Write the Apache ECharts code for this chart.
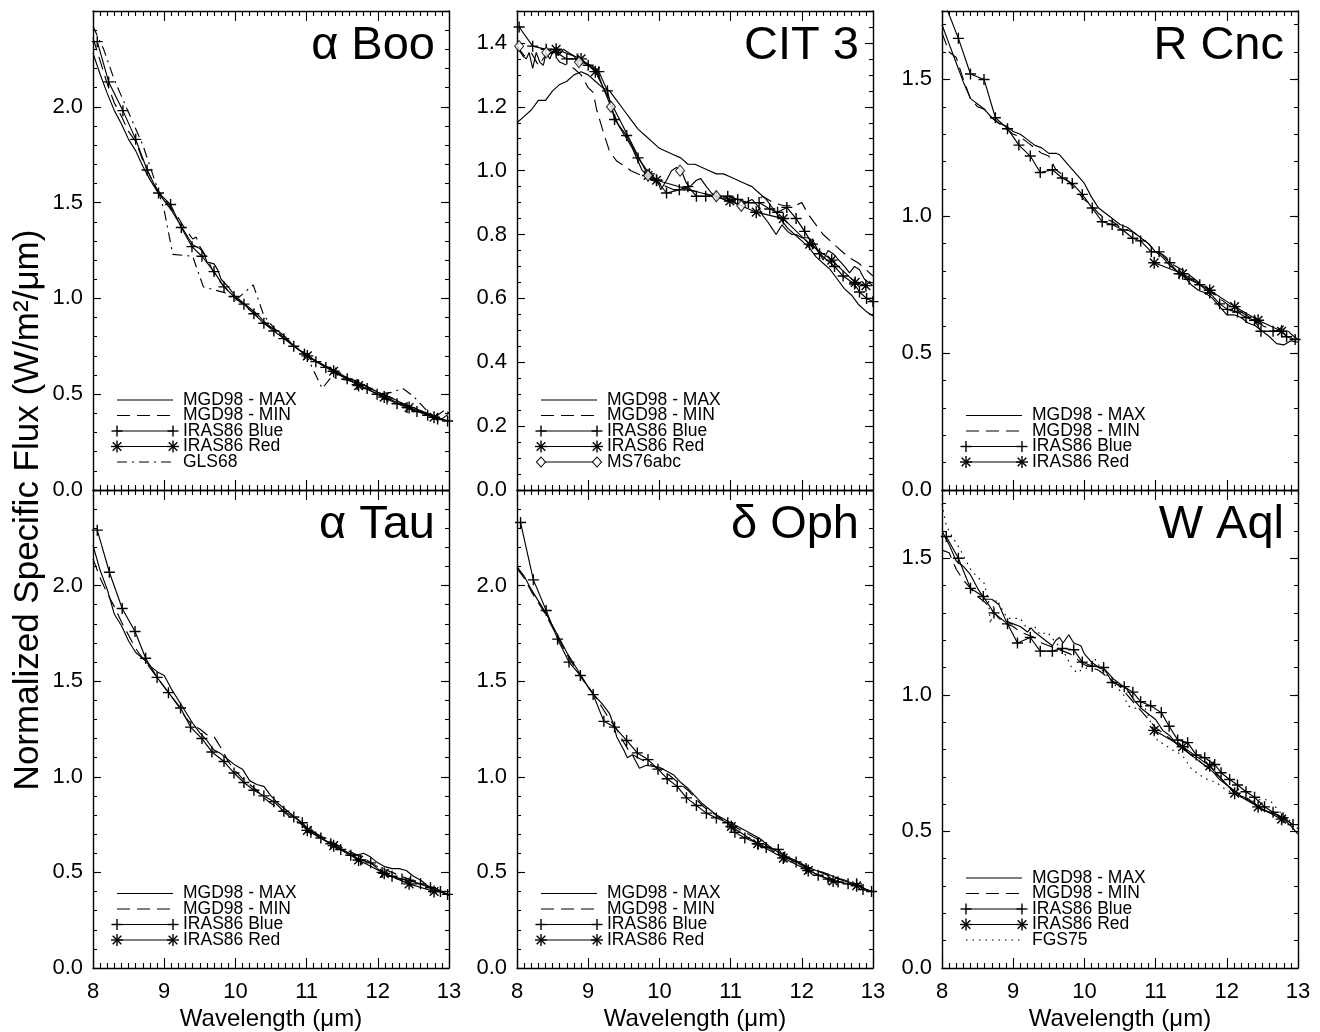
<!DOCTYPE html>
<html><head><meta charset="utf-8">
<script src="https://cdn.jsdelivr.net/npm/echarts@6/dist/echarts.min.js"></script>
<style>html,body{margin:0;padding:0;background:#fff}#c{width:1320px;height:1032px}</style>
</head><body><div id="c"></div>
<script>
// ---------------- DATA ----------------
const starNames = ['α Boo', 'CIT 3', 'R Cnc', 'α Tau', 'δ Oph', 'W Aql'];
const yMax   = [2.5, 1.5, 1.75, 2.5, 2.5, 1.75];
const yMajor = [0.5, 0.2, 0.5, 0.5, 0.5, 0.5];
const yMinor = [0.1, 0.05, 0.1, 0.1, 0.1, 0.1];
const xMin = 8, xMax = 13, xMajor = 1;
const xTitle = 'Wavelength (μm)';
const yTitle = 'Normalized Specific Flux (W/m²/μm)';

// α Boo
const booMax = [[8.0,2.28],[8.1,2.17],[8.2,2.07],[8.3,1.98],[8.4,1.91],[8.5,1.83],[8.6,1.77],[8.7,1.69],[8.8,1.62],[8.9,1.56],[9.0,1.51],[9.1,1.46],[9.2,1.40],[9.3,1.34],[9.4,1.28],[9.5,1.26],[9.55,1.24],[9.6,1.19],[9.7,1.18],[9.75,1.15],[9.8,1.10],[9.9,1.06],[10.0,1.01],[10.1,0.98],[10.2,0.95],[10.3,0.92],[10.4,0.88],[10.5,0.85],[10.6,0.83],[10.7,0.80],[10.8,0.76],[10.9,0.73],[11.0,0.71],[11.1,0.68],[11.2,0.66],[11.3,0.64],[11.4,0.62],[11.5,0.60],[11.6,0.58],[11.7,0.565],[11.8,0.55],[11.9,0.53],[12.0,0.51],[12.1,0.495],[12.2,0.48],[12.3,0.46],[12.4,0.445],[12.5,0.43],[12.6,0.415],[12.7,0.40],[12.8,0.385],[12.9,0.37],[13.0,0.36]];
const booMin = [[8.0,2.36],[8.1,2.24],[8.2,2.12],[8.3,2.02],[8.4,1.95],[8.5,1.87],[8.6,1.82],[8.7,1.72],[8.8,1.64],[8.9,1.57],[9.0,1.52],[9.1,1.47],[9.2,1.42],[9.3,1.36],[9.4,1.31],[9.45,1.32],[9.5,1.27],[9.6,1.21],[9.7,1.13],[9.8,1.08],[9.9,1.04],[10.0,1.00],[10.1,0.97],[10.2,0.94],[10.3,0.91],[10.4,0.87],[10.5,0.85],[10.6,0.82],[10.7,0.79],[10.8,0.76],[10.9,0.73],[11.0,0.70],[11.2,0.66],[11.4,0.62],[11.6,0.58],[11.7,0.57],[11.8,0.55],[12.0,0.51],[12.2,0.48],[12.4,0.44],[12.6,0.41],[12.8,0.38],[12.9,0.37],[13.0,0.40]];
const booBlue = [[8.06,2.34],[8.22,2.13],[8.42,1.98],[8.60,1.83],[8.76,1.67],[8.92,1.55],[9.09,1.49],[9.24,1.37],[9.39,1.27],[9.53,1.22],[9.70,1.14],[9.84,1.06],[9.98,1.01],[10.12,0.97],[10.26,0.92],[10.40,0.87],[10.54,0.83],[10.68,0.79],[10.82,0.75],[10.97,0.71],[11.13,0.67],[11.27,0.64],[11.41,0.61],[11.57,0.58],[11.71,0.55],[11.85,0.53],[11.99,0.50],[12.13,0.475],[12.27,0.45],[12.41,0.43],[12.55,0.41],[12.70,0.39],[12.84,0.37],[12.98,0.36]];
const booRed = [[11.01,0.70],[11.38,0.62],[11.73,0.545],[12.09,0.485],[12.44,0.43],[12.79,0.38]];
const booGls = [[8.0,2.42],[8.15,2.30],[8.3,2.14],[8.5,1.97],[8.7,1.80],[8.9,1.58],[9.0,1.46],[9.12,1.23],[9.4,1.22],[9.55,1.06],[9.85,1.03],[10.0,0.99],[10.25,1.07],[10.4,0.91],[10.6,0.82],[10.8,0.76],[11.0,0.70],[11.22,0.53],[11.35,0.59],[11.6,0.57],[11.8,0.55],[12.0,0.50],[12.2,0.51],[12.35,0.53],[12.5,0.49],[12.7,0.41],[12.8,0.38],[12.95,0.42],[13.0,0.40]];

// CIT 3
const citMax = [[8.0,1.15],[8.1,1.17],[8.2,1.19],[8.3,1.22],[8.4,1.22],[8.5,1.25],[8.6,1.27],[8.7,1.28],[8.8,1.30],[8.9,1.31],[9.0,1.30],[9.1,1.28],[9.2,1.26],[9.3,1.25],[9.4,1.22],[9.5,1.19],[9.6,1.16],[9.7,1.13],[9.8,1.11],[9.9,1.09],[10.0,1.07],[10.1,1.06],[10.2,1.05],[10.3,1.04],[10.4,1.02],[10.5,1.02],[10.6,1.01],[10.7,1.00],[10.8,0.99],[10.9,0.99],[11.0,0.98],[11.1,0.97],[11.2,0.96],[11.3,0.95],[11.4,0.93],[11.5,0.91],[11.6,0.88],[11.7,0.85],[11.8,0.82],[11.9,0.80],[12.0,0.78],[12.1,0.76],[12.2,0.73],[12.3,0.71],[12.4,0.69],[12.5,0.66],[12.6,0.63],[12.7,0.61],[12.8,0.58],[12.9,0.56],[13.0,0.545]];
const citMin = [[8.0,1.39],[8.1,1.36],[8.2,1.37],[8.3,1.33],[8.4,1.36],[8.5,1.37],[8.6,1.34],[8.7,1.33],[8.8,1.32],[8.9,1.30],[9.0,1.26],[9.07,1.245],[9.12,1.19],[9.2,1.13],[9.3,1.06],[9.4,1.03],[9.47,1.02],[9.6,1.00],[9.8,0.98],[10.0,0.96],[10.2,0.94],[10.4,0.94],[10.6,0.93],[10.8,0.92],[11.0,0.91],[11.2,0.90],[11.35,0.90],[11.45,0.92],[11.6,0.90],[11.75,0.89],[11.9,0.89],[12.0,0.90],[12.1,0.86],[12.3,0.80],[12.5,0.76],[12.65,0.73],[12.8,0.71],[12.9,0.69],[13.0,0.67]];
const citBlue = [[8.03,1.45],[8.22,1.39],[8.41,1.38],[8.55,1.37],[8.7,1.35],[8.85,1.35],[9.0,1.33],[9.15,1.31],[9.27,1.25],[9.37,1.16],[9.54,1.11],[9.70,1.04],[9.86,0.99],[9.96,0.97],[10.1,0.93],[10.28,0.94],[10.4,0.95],[10.52,0.92],[10.65,0.92],[10.8,0.92],[10.96,0.92],[11.1,0.91],[11.25,0.90],[11.4,0.90],[11.55,0.88],[11.66,0.87],[11.79,0.885],[11.92,0.85],[12.04,0.81],[12.15,0.77],[12.25,0.74],[12.46,0.70],[12.58,0.67],[12.74,0.645],[12.81,0.62],[12.91,0.60],[13.0,0.59]];
const citRed = [[8.55,1.38],[8.9,1.35],[9.1,1.31],[9.84,0.985],[9.96,0.97],[10.99,0.905],[11.36,0.87],[11.74,0.85],[12.11,0.77],[12.42,0.72],[12.75,0.65],[12.9,0.64]];
const citMsLine = [[8.0,1.39],[8.08,1.36],[8.13,1.35],[8.17,1.37],[8.22,1.32],[8.27,1.37],[8.32,1.34],[8.37,1.33],[8.41,1.37],[8.46,1.35],[8.52,1.38],[8.58,1.36],[8.65,1.38],[8.72,1.37],[8.8,1.36],[8.87,1.33],[8.95,1.34],[9.03,1.33],[9.11,1.32],[9.21,1.26],[9.32,1.20],[9.43,1.14],[9.54,1.10],[9.62,1.07],[9.68,1.04],[9.76,1.00],[9.84,0.985],[9.92,0.97],[9.96,0.975],[10.02,0.94],[10.1,0.97],[10.17,1.00],[10.24,1.01],[10.31,1.00],[10.38,0.96],[10.43,0.95],[10.52,0.97],[10.58,0.975],[10.66,0.95],[10.73,0.93],[10.8,0.92],[10.87,0.915],[10.94,0.905],[11.03,0.905],[11.1,0.895],[11.15,0.89],[11.22,0.90],[11.3,0.91],[11.38,0.89],[11.45,0.86],[11.52,0.84],[11.58,0.82],[11.64,0.80],[11.72,0.83],[11.8,0.81],[11.86,0.80],[11.92,0.80],[12.0,0.79],[12.08,0.79],[12.16,0.78],[12.23,0.75],[12.3,0.72],[12.37,0.75],[12.44,0.74],[12.52,0.72],[12.6,0.70],[12.67,0.68],[12.74,0.70],[12.81,0.69],[12.88,0.66],[12.94,0.65],[13.0,0.64]];
const citMsMark = [[8.03,1.39],[8.41,1.37],[8.87,1.34],[9.32,1.20],[9.84,0.985],[10.29,1.0],[10.8,0.92],[11.15,0.89]];

// R Cnc
const rcnMax = [[8.0,1.70],[8.1,1.63],[8.2,1.56],[8.3,1.49],[8.4,1.43],[8.5,1.41],[8.6,1.39],[8.7,1.36],[8.8,1.34],[8.9,1.33],[9.0,1.31],[9.1,1.30],[9.2,1.28],[9.3,1.26],[9.4,1.25],[9.5,1.23],[9.6,1.23],[9.65,1.225],[9.7,1.21],[9.8,1.18],[9.9,1.15],[10.0,1.12],[10.1,1.07],[10.2,1.03],[10.3,1.01],[10.4,0.99],[10.5,0.97],[10.6,0.96],[10.7,0.94],[10.8,0.92],[10.9,0.90],[11.0,0.87],[11.1,0.85],[11.2,0.82],[11.3,0.80],[11.4,0.78],[11.5,0.75],[11.6,0.73],[11.7,0.72],[11.8,0.70],[11.9,0.67],[12.0,0.64],[12.1,0.64],[12.2,0.63],[12.3,0.61],[12.4,0.60],[12.5,0.58],[12.6,0.56],[12.7,0.535],[12.8,0.53],[12.9,0.545],[13.0,0.54]];
const rcnMin = [[8.0,1.67],[8.1,1.60],[8.2,1.58],[8.3,1.50],[8.4,1.43],[8.5,1.40],[8.6,1.39],[8.7,1.36],[8.8,1.34],[8.9,1.32],[9.0,1.30],[9.1,1.29],[9.2,1.27],[9.3,1.25],[9.4,1.23],[9.5,1.22],[9.6,1.17],[9.7,1.15],[9.8,1.12],[9.9,1.09],[10.0,1.06],[10.1,1.04],[10.2,1.01],[10.3,0.99],[10.4,0.98],[10.5,0.96],[10.6,0.95],[10.7,0.94],[10.8,0.92],[10.9,0.90],[11.0,0.87],[11.1,0.86],[11.15,0.85],[11.2,0.83],[11.4,0.80],[11.6,0.76],[11.8,0.72],[12.0,0.68],[12.2,0.65],[12.4,0.62],[12.5,0.60],[12.7,0.58],[12.8,0.60],[12.9,0.57],[13.0,0.55]];
const rcnBlue = [[8.05,1.77],[8.23,1.65],[8.40,1.52],[8.59,1.50],[8.75,1.36],[8.92,1.32],[9.08,1.26],[9.24,1.22],[9.38,1.16],[9.55,1.17],[9.69,1.14],[9.83,1.12],[9.97,1.08],[10.11,1.03],[10.25,0.98],[10.39,0.97],[10.54,0.95],[10.68,0.92],[10.79,0.91],[10.94,0.87],[11.05,0.87],[11.20,0.83],[11.33,0.79],[11.47,0.77],[11.62,0.75],[11.76,0.72],[11.90,0.68],[12.01,0.66],[12.15,0.65],[12.27,0.63],[12.39,0.62],[12.48,0.58],[12.65,0.58],[12.77,0.58],[12.84,0.56],[12.96,0.55]];
const rcnRed = [[10.98,0.83],[11.38,0.79],[11.76,0.73],[12.11,0.67],[12.44,0.62],[12.77,0.58]];

// α Tau
const tauMax = [[8.0,2.21],[8.1,2.08],[8.2,1.98],[8.3,1.85],[8.4,1.79],[8.5,1.71],[8.6,1.65],[8.7,1.62],[8.8,1.58],[8.9,1.55],[9.0,1.53],[9.1,1.46],[9.2,1.40],[9.3,1.34],[9.4,1.28],[9.5,1.23],[9.6,1.19],[9.7,1.14],[9.8,1.12],[9.9,1.09],[10.0,1.06],[10.1,1.04],[10.2,0.98],[10.3,0.96],[10.4,0.95],[10.5,0.90],[10.6,0.86],[10.7,0.83],[10.8,0.80],[10.9,0.77],[11.0,0.73],[11.1,0.71],[11.2,0.68],[11.3,0.66],[11.4,0.645],[11.5,0.62],[11.6,0.60],[11.7,0.59],[11.8,0.60],[11.9,0.58],[12.0,0.55],[12.1,0.53],[12.2,0.52],[12.3,0.52],[12.4,0.51],[12.5,0.48],[12.6,0.46],[12.7,0.43],[12.8,0.42],[12.9,0.40],[13.0,0.38]];
const tauMin = [[8.0,2.14],[8.1,2.04],[8.2,1.96],[8.3,1.89],[8.4,1.81],[8.5,1.74],[8.6,1.67],[8.7,1.62],[8.8,1.57],[8.9,1.52],[9.0,1.47],[9.1,1.42],[9.2,1.37],[9.3,1.31],[9.4,1.27],[9.5,1.25],[9.6,1.22],[9.7,1.21],[9.8,1.15],[9.9,1.08],[10.0,1.03],[10.1,0.99],[10.2,0.96],[10.3,0.93],[10.4,0.89],[10.5,0.86],[10.6,0.84],[10.7,0.81],[10.8,0.78],[10.9,0.76],[11.0,0.73],[11.2,0.69],[11.4,0.65],[11.6,0.61],[11.8,0.575],[12.0,0.53],[12.2,0.50],[12.4,0.47],[12.6,0.44],[12.8,0.41],[13.0,0.38]];
const tauBlue = [[8.06,2.29],[8.23,2.07],[8.41,1.88],[8.59,1.76],[8.74,1.62],[8.90,1.52],[9.06,1.44],[9.23,1.36],[9.37,1.26],[9.53,1.20],[9.67,1.13],[9.84,1.08],[9.98,1.02],[10.12,0.97],[10.26,0.93],[10.40,0.90],[10.54,0.87],[10.68,0.82],[10.82,0.79],[10.94,0.76],[11.06,0.71],[11.20,0.68],[11.34,0.65],[11.48,0.62],[11.62,0.59],[11.76,0.565],[11.90,0.55],[12.06,0.50],[12.20,0.48],[12.34,0.465],[12.46,0.455],[12.60,0.44],[12.74,0.42],[12.88,0.40],[12.98,0.385]];
const tauRed = [[11.01,0.72],[11.38,0.64],[11.73,0.565],[12.09,0.495],[12.44,0.44],[12.79,0.40]];

// δ Oph
const ophMax = [[8.0,2.10],[8.1,2.05],[8.2,1.98],[8.3,1.92],[8.4,1.86],[8.5,1.79],[8.6,1.72],[8.7,1.65],[8.8,1.59],[8.9,1.53],[9.0,1.47],[9.1,1.42],[9.2,1.38],[9.3,1.33],[9.35,1.28],[9.4,1.21],[9.5,1.14],[9.55,1.10],[9.62,1.115],[9.72,1.045],[9.82,1.06],[9.9,1.055],[10.0,1.05],[10.1,1.03],[10.2,1.01],[10.3,0.97],[10.4,0.94],[10.5,0.90],[10.6,0.86],[10.7,0.83],[10.8,0.80],[10.9,0.78],[11.0,0.76],[11.1,0.74],[11.2,0.72],[11.3,0.70],[11.4,0.68],[11.5,0.65],[11.6,0.62],[11.7,0.60],[11.8,0.58],[11.9,0.565],[12.0,0.545],[12.1,0.525],[12.2,0.51],[12.3,0.50],[12.4,0.485],[12.5,0.47],[12.6,0.46],[12.7,0.445],[12.8,0.43],[12.9,0.41],[13.0,0.40]];
const ophMin = [[8.0,2.09],[8.1,2.04],[8.2,1.97],[8.3,1.91],[8.4,1.85],[8.5,1.78],[8.6,1.71],[8.7,1.64],[8.8,1.58],[8.9,1.52],[9.0,1.47],[9.1,1.42],[9.2,1.36],[9.3,1.30],[9.4,1.25],[9.5,1.18],[9.6,1.12],[9.7,1.10],[9.8,1.08],[9.9,1.06],[10.0,1.04],[10.1,1.02],[10.2,0.99],[10.3,0.96],[10.4,0.93],[10.5,0.89],[10.6,0.85],[10.7,0.82],[10.8,0.80],[10.9,0.77],[11.0,0.75],[11.2,0.71],[11.4,0.67],[11.6,0.61],[11.8,0.575],[12.0,0.54],[12.2,0.51],[12.4,0.48],[12.6,0.455],[12.8,0.43],[13.0,0.395]];
const ophBlue = [[8.05,2.33],[8.23,2.03],[8.41,1.87],[8.57,1.72],[8.73,1.60],[8.89,1.53],[9.07,1.43],[9.22,1.29],[9.37,1.26],[9.54,1.19],[9.69,1.125],[9.84,1.09],[9.98,1.04],[10.11,0.99],[10.25,0.95],[10.38,0.89],[10.52,0.85],[10.66,0.81],[10.80,0.785],[10.96,0.76],[11.06,0.71],[11.20,0.68],[11.39,0.65],[11.50,0.63],[11.67,0.62],[11.76,0.58],[11.92,0.555],[12.06,0.52],[12.23,0.485],[12.37,0.465],[12.51,0.45],[12.65,0.44],[12.77,0.44],[12.86,0.41],[12.98,0.40]];
const ophRed = [[11.01,0.74],[11.38,0.65],[11.74,0.575],[12.09,0.51],[12.44,0.455],[12.77,0.43]];

// W Aql
const aqlMax = [[8.0,1.60],[8.1,1.55],[8.2,1.49],[8.3,1.47],[8.4,1.44],[8.5,1.39],[8.6,1.35],[8.7,1.35],[8.8,1.33],[8.9,1.27],[9.0,1.26],[9.1,1.25],[9.2,1.23],[9.25,1.245],[9.3,1.23],[9.4,1.21],[9.5,1.19],[9.55,1.18],[9.6,1.20],[9.65,1.21],[9.7,1.19],[9.78,1.22],[9.85,1.19],[9.95,1.18],[10.0,1.15],[10.1,1.12],[10.2,1.10],[10.3,1.09],[10.4,1.06],[10.5,1.04],[10.6,1.02],[10.7,0.98],[10.8,0.95],[10.9,0.93],[11.0,0.91],[11.1,0.87],[11.2,0.85],[11.3,0.82],[11.4,0.80],[11.5,0.78],[11.6,0.76],[11.7,0.74],[11.8,0.72],[11.9,0.69],[12.0,0.67],[12.1,0.65],[12.2,0.63],[12.3,0.62],[12.4,0.60],[12.5,0.58],[12.6,0.57],[12.7,0.56],[12.8,0.545],[12.9,0.52],[13.0,0.49]];
const aqlMin = [[8.0,1.53],[8.1,1.52],[8.2,1.46],[8.3,1.42],[8.4,1.39],[8.5,1.36],[8.6,1.34],[8.7,1.31],[8.8,1.28],[8.9,1.26],[9.0,1.25],[9.1,1.23],[9.2,1.22],[9.3,1.21],[9.4,1.19],[9.5,1.18],[9.6,1.17],[9.7,1.16],[9.8,1.15],[9.9,1.13],[10.0,1.11],[10.1,1.10],[10.2,1.09],[10.3,1.07],[10.4,1.05],[10.5,1.03],[10.6,1.00],[10.7,0.97],[10.8,0.94],[10.9,0.91],[11.0,0.88],[11.1,0.86],[11.2,0.84],[11.3,0.82],[11.4,0.80],[11.5,0.78],[11.6,0.76],[11.7,0.74],[11.8,0.72],[11.9,0.70],[12.0,0.67],[12.2,0.63],[12.4,0.60],[12.5,0.58],[12.6,0.57],[12.8,0.55],[12.9,0.53],[13.0,0.51]];
const aqlBlue = [[8.06,1.58],[8.23,1.50],[8.40,1.39],[8.58,1.36],[8.73,1.30],[8.92,1.26],[9.06,1.19],[9.24,1.21],[9.38,1.16],[9.55,1.16],[9.69,1.17],[9.85,1.165],[9.97,1.12],[10.11,1.105],[10.27,1.10],[10.39,1.045],[10.56,1.03],[10.68,1.01],[10.79,0.975],[10.93,0.96],[11.08,0.935],[11.19,0.885],[11.31,0.835],[11.45,0.825],[11.57,0.78],[11.69,0.77],[11.83,0.745],[11.92,0.715],[12.04,0.69],[12.15,0.67],[12.27,0.645],[12.39,0.625],[12.53,0.59],[12.65,0.57],[12.79,0.55],[12.93,0.525]];
const aqlRed = [[10.98,0.87],[11.38,0.81],[11.76,0.74],[12.11,0.64],[12.44,0.59],[12.77,0.545]];
const aqlFgs = [[8.0,1.70],[8.06,1.62],[8.12,1.59],[8.26,1.53],[8.40,1.46],[8.5,1.43],[8.59,1.41],[8.65,1.35],[8.68,1.26],[8.72,1.32],[8.77,1.35],[8.85,1.31],[8.92,1.28],[9.0,1.28],[9.1,1.28],[9.2,1.24],[9.3,1.25],[9.38,1.22],[9.48,1.23],[9.57,1.20],[9.67,1.17],[9.75,1.14],[9.82,1.10],[9.9,1.08],[9.95,1.09],[10.05,1.10],[10.15,1.13],[10.25,1.09],[10.32,1.07],[10.45,1.03],[10.55,1.00],[10.61,0.96],[10.7,0.95],[10.84,0.96],[10.93,0.90],[11.03,0.83],[11.12,0.82],[11.22,0.80],[11.31,0.79],[11.4,0.77],[11.5,0.73],[11.6,0.71],[11.73,0.69],[11.85,0.68],[11.95,0.66],[12.01,0.65],[12.1,0.64],[12.25,0.62],[12.4,0.61],[12.5,0.62],[12.62,0.61],[12.75,0.57],[12.86,0.55],[12.95,0.51],[13.0,0.49]];

// series list per panel: [legend name, style kind, data, (marker data)]
const panelSeries = [
  [['MGD98 - MAX','max',booMax],['MGD98 - MIN','min',booMin],['IRAS86 Blue','blue',booBlue],['IRAS86 Red','red',booRed],['GLS68','gls',booGls]],
  [['MGD98 - MAX','max',citMax],['MGD98 - MIN','min',citMin],['IRAS86 Blue','blue',citBlue],['IRAS86 Red','red',citRed],['MS76abc','ms',citMsLine,citMsMark]],
  [['MGD98 - MAX','max',rcnMax],['MGD98 - MIN','min',rcnMin],['IRAS86 Blue','blue',rcnBlue],['IRAS86 Red','red',rcnRed]],
  [['MGD98 - MAX','max',tauMax],['MGD98 - MIN','min',tauMin],['IRAS86 Blue','blue',tauBlue],['IRAS86 Red','red',tauRed]],
  [['MGD98 - MAX','max',ophMax],['MGD98 - MIN','min',ophMin],['IRAS86 Blue','blue',ophBlue],['IRAS86 Red','red',ophRed]],
  [['MGD98 - MAX','max',aqlMax],['MGD98 - MIN','min',aqlMin],['IRAS86 Blue','blue',aqlBlue],['IRAS86 Red','red',aqlRed],['FGS75','fgs',aqlFgs]]
];

// ---------------- LAYOUT / STYLE ----------------
const FONT = '"Liberation Sans", Arial, Helvetica, sans-serif';
const colLeft = [93, 517, 942];
const rowTop = [11, 490];
const panelW = 356;
const panelH = [479, 478];
const LW = 1.15;
const MW = 1.4;
const dashOf = { max: 'solid', min: [13, 7], blue: 'solid', red: 'solid', gls: [10, 5, 2, 5], fgs: [1.5, 5], ms: 'solid' };
const PLUS = 'path://M0,-1L0,1M-1,0L1,0';
const STAR = 'path://M0,-1L0,1M-1,0L1,0M-0.72,-0.72L0.72,0.72M-0.72,0.72L0.72,-0.72';
const PSIZE = 11, SSIZE = 12;

const grids = [], xAxes = [], yAxes = [], series = [], graphics = [];
const axisBlack = { color: '#000', width: 1.4 };
const tickBlack = { color: '#000', width: 1.1 };

function seg(x1, y1, x2, y2, w, dash) {
  const el = { type: 'line', silent: true, shape: { x1, y1, x2, y2 }, style: { stroke: '#000', lineWidth: w } };
  if (dash) el.style.lineDash = dash;
  graphics.push(el);
}

for (let g = 0; g < 6; g++) {
  const row = Math.floor(g / 3), col = g % 3;
  const L = colLeft[col], T = rowTop[row], H = panelH[row];
  grids.push({ left: L, top: T, width: panelW, height: H, containLabel: false, outerBoundsMode: 'none' });
  const xBase = {
    gridIndex: g, type: 'value', min: xMin, max: xMax, interval: xMajor,
    axisLine: { show: true, onZero: false, lineStyle: axisBlack },
    axisTick: { show: true, inside: true, length: 10, lineStyle: tickBlack },
    minorTick: { show: true, splitNumber: 10, length: 5, lineStyle: tickBlack },
    splitLine: { show: false }, minorSplitLine: { show: false }
  };
  xAxes.push(Object.assign({}, xBase, {
    position: 'bottom',
    axisLabel: { show: row === 1, color: '#000', fontSize: 22, fontFamily: FONT, margin: 13, hideOverlap: false },
    name: row === 1 ? xTitle : '', nameLocation: 'middle', nameGap: 39,
    nameTextStyle: { color: '#000', fontSize: 24, fontFamily: FONT }
  }));
  xAxes.push(Object.assign({}, xBase, { position: 'top', axisLabel: { show: false } }));

  const yMajorAxis = (pos, labels) => ({
    gridIndex: g, type: 'value', min: 0, max: yMax[g], interval: yMajor[g], position: pos,
    axisLine: { show: true, onZero: false, lineStyle: axisBlack },
    axisTick: { show: true, inside: true, length: 8, lineStyle: tickBlack },
    axisLabel: { show: labels, color: '#000', fontSize: 22, fontFamily: FONT, margin: 10, showMaxLabel: false, hideOverlap: false,
      formatter: v => Number(v).toFixed(1) },
    splitLine: { show: false }
  });
  const yMinorAxis = (pos) => ({
    gridIndex: g, type: 'value', min: 0, max: yMax[g], interval: yMinor[g], position: pos,
    axisLine: { show: false },
    axisTick: { show: true, inside: true, length: 4, lineStyle: tickBlack },
    axisLabel: { show: false }, splitLine: { show: false }
  });
  yAxes.push(yMajorAxis('left', true), yMinorAxis('left'), yMajorAxis('right', false), yMinorAxis('right'));

  panelSeries[g].forEach(([name, kind, data, marks]) => {
    const s = {
      type: 'line', name, xAxisIndex: 2 * g, yAxisIndex: 4 * g, data,
      animation: false, silent: true, clip: true, z: 3,
      lineStyle: { color: '#000', width: LW, type: dashOf[kind] },
      itemStyle: { color: '#000', borderColor: '#000', borderWidth: MW },
      symbol: 'none', showSymbol: false, emphasis: { disabled: true }
    };
    if (kind === 'blue') { s.symbol = PLUS; s.showSymbol = true; s.symbolSize = PSIZE; }
    if (kind === 'red') { s.symbol = STAR; s.showSymbol = true; s.symbolSize = SSIZE; }
    series.push(s);
    if (kind === 'ms' && marks) {
      series.push({
        type: 'scatter', name, xAxisIndex: 2 * g, yAxisIndex: 4 * g, data: marks,
        animation: false, silent: true, z: 4, symbol: 'diamond', symbolSize: [9, 11],
        itemStyle: { color: '#fff', borderColor: '#000', borderWidth: 1.1 }
      });
    }
  });

  graphics.push({ type: 'text', x: L + panelW - 14, y: T + 35, silent: true,
    style: { text: starNames[g], fill: '#000', font: '47px ' + FONT, textAlign: 'right', textVerticalAlign: 'middle' } });

  const items = panelSeries[g];
  const n = items.length, step = 15.5, bottomY = T + H - 28;
  items.forEach(([name, kind], i) => {
    const y = bottomY - (n - 1 - i) * step;
    const x0 = L + 24, x1 = L + 80;
    const dash = dashOf[kind] === 'solid' ? null : dashOf[kind];
    seg(x0, y, x1, y, LW, dash);
    [x0, x1].forEach(cx => {
      if (kind === 'blue' || kind === 'red') {
        const r = (kind === 'red' ? SSIZE : PSIZE) / 2;
        seg(cx, y - r, cx, y + r, MW);
        seg(cx - r, y, cx + r, y, MW);
        if (kind === 'red') {
          const d = r * 0.72;
          seg(cx - d, y - d, cx + d, y + d, MW);
          seg(cx - d, y + d, cx + d, y - d, MW);
        }
      } else if (kind === 'ms') {
        graphics.push({ type: 'polygon', silent: true, shape: { points: [[cx, y - 5], [cx + 4.5, y], [cx, y + 5], [cx - 4.5, y]] },
          style: { stroke: '#000', fill: '#fff', lineWidth: 1.1 } });
      }
    });
    graphics.push({ type: 'text', silent: true, x: L + 90, y: y,
      style: { text: name, fill: '#000', font: '17.5px ' + FONT, textAlign: 'left', textVerticalAlign: 'middle' } });
  });
}

graphics.push({ type: 'text', silent: true, x: 28, y: 510, rotation: Math.PI / 2,
  style: { text: yTitle, fill: '#000', font: '35px ' + FONT, textAlign: 'center', textVerticalAlign: 'middle' } });

const chart = echarts.init(document.getElementById('c'), null, { renderer: 'canvas' });
chart.setOption({
  animation: false,
  backgroundColor: '#fff',
  textStyle: { fontFamily: FONT },
  grid: grids, xAxis: xAxes, yAxis: yAxes, series, graphic: graphics
});
</script>
</body></html>
